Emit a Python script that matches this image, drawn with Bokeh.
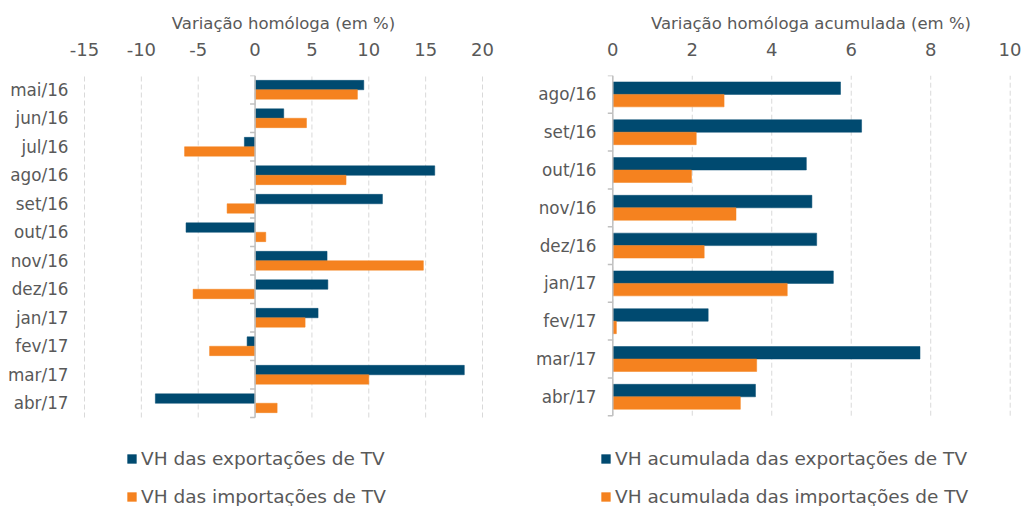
from bokeh.plotting import figure
from bokeh.models import Range1d, FixedTicker, Legend, LegendItem, ColumnDataSource
from bokeh.layouts import row
from bokeh.embed import file_html
from bokeh.resources import INLINE

# ---------------- data ----------------
months_left = ["mai/16", "jun/16", "jul/16", "ago/16", "set/16", "out/16",
               "nov/16", "dez/16", "jan/17", "fev/17", "mar/17", "abr/17"]
vh_exp = [9.56, 2.52, -0.94, 15.8, 11.2, -6.07, 6.33, 6.4, 5.54, -0.7, 18.4, -8.77]
vh_imp = [9.0, 4.52, -6.2, 8.0, -2.46, 0.94, 14.8, -5.45, 4.4, -4.0, 10.0, 1.94]
ticks_left = [-15, -10, -5, 0, 5, 10, 15, 20]

months_right = ["ago/16", "set/16", "out/16", "nov/16", "dez/16",
                "jan/17", "fev/17", "mar/17", "abr/17"]
vha_exp = [5.73, 6.26, 4.87, 5.01, 5.13, 5.55, 2.4, 7.73, 3.59]
vha_imp = [2.8, 2.1, 1.98, 3.1, 2.3, 4.39, 0.09, 3.62, 3.21]
ticks_right = [0, 2, 4, 6, 8, 10]

title_left = "Variação homóloga (em %)"
title_right = "Variação homóloga acumulada (em %)"
leg_left = ["VH das exportações de TV", "VH das importações de TV"]
leg_right = ["VH acumulada das exportações de TV", "VH acumulada das importações de TV"]

# ---------------- style ----------------
BLUE = "#004A70"
ORANGE = "#F5821F"
TXT = "#595959"
GRID = "#d9d9d9"
AXIS = "#c0c0c0"
FONT = "DejaVu Sans"
BAR_H = 0.33
HEIGHT = 506
TOP = 75


def panel(cats, exp, imp, ticks, title, labels, width, frame_left, frame_right,
          x0_px, x_end_px, cat_px, label_right, legend_left):
    """x0_px / x_end_px: pixel positions of first and last tick value."""
    n = len(cats)
    t0, t1 = ticks[0], ticks[-1]
    ppu = (x_end_px - x0_px) / (t1 - t0)          # pixels per unit
    xs = t0 - (x0_px - frame_left) / ppu
    xe = t1 + (frame_right - x_end_px) / ppu
    frame_h = HEIGHT - TOP
    y_below = (frame_h - n * cat_px) / cat_px      # room under bars for legend

    centers = [n - i - 0.5 for i in range(n)]
    src = ColumnDataSource(dict(
        cat=cats, exp=exp, imp=imp,
        y_exp=[c + BAR_H / 2 for c in centers],
        y_imp=[c - BAR_H / 2 for c in centers],
    ))
    p = figure(width=width, height=HEIGHT, x_range=Range1d(xs, xe),
               y_range=Range1d(-y_below, n),
               x_axis_location="above", output_backend="svg", toolbar_location=None,
               min_border_left=frame_left, min_border_right=width - frame_right,
               min_border_top=TOP, min_border_bottom=0)
    p.outline_line_color = None
    p.background_fill_color = "white"
    p.border_fill_color = "white"
    p.xgrid.grid_line_color = None
    p.ygrid.grid_line_color = None

    # x axis (top)
    xa = p.xaxis[0]
    xa.ticker = FixedTicker(ticks=ticks)
    xa.major_label_overrides = {t: str(t) for t in ticks}
    xa.axis_label = title
    xa.axis_label_text_font = FONT
    xa.axis_label_text_font_size = "16.5px"
    xa.axis_label_text_font_style = "normal"
    xa.axis_label_text_color = TXT
    xa.axis_label_standoff = 7
    xa.major_label_text_font = FONT
    xa.major_label_text_font_size = "18px"
    xa.major_label_text_color = TXT
    xa.major_label_standoff = 14
    xa.axis_line_color = None
    xa.major_tick_line_color = None
    xa.minor_tick_line_color = None

    # y axis: category labels only
    ya = p.yaxis[0]
    ya.ticker = FixedTicker(ticks=centers)
    ya.major_label_overrides = {c: lab for c, lab in zip(centers, cats)}
    ya.major_label_text_font = FONT
    ya.major_label_text_font_size = "16.8px"
    ya.major_label_text_color = TXT
    ya.major_tick_out = 0
    ya.major_tick_in = 0
    ya.major_label_standoff = frame_left - label_right
    ya.major_tick_line_color = None
    ya.minor_tick_line_color = None
    ya.axis_line_color = None

    # dashed vertical gridlines over the category area
    p.segment(x0=ticks, x1=ticks, y0=[0] * len(ticks), y1=[n] * len(ticks),
              line_color=GRID, line_dash="5 3", line_width=1)

    r1 = p.hbar(y="y_exp", left=0, right="exp", height=BAR_H, source=src,
                fill_color=BLUE, line_color=BLUE, line_width=0.5)
    r2 = p.hbar(y="y_imp", left=0, right="imp", height=BAR_H, source=src,
                fill_color=ORANGE, line_color=ORANGE, line_width=0.5)

    # category axis line at value 0 with boundary ticks
    tl = 5 / ppu
    bnd = list(range(n + 1))
    p.segment(x0=[0], x1=[0], y0=[0], y1=[n], line_color=AXIS, line_width=1.5)
    p.segment(x0=[-tl] * len(bnd), x1=[0] * len(bnd), y0=bnd, y1=bnd,
              line_color=AXIS, line_width=1.5)

    leg = Legend(items=[LegendItem(label=labels[0], renderers=[r1]),
                        LegendItem(label=labels[1], renderers=[r2])],
                 location=(legend_left - frame_left, -1),
                 orientation="vertical")
    leg.glyph_width = 11
    leg.glyph_height = 11
    leg.label_height = 11
    leg.label_standoff = 4
    leg.label_text_font = FONT
    leg.label_text_font_size = "18.5px"
    leg.label_text_color = TXT
    leg.label_text_baseline = "middle"
    leg.spacing = 17
    leg.padding = 0
    leg.margin = 0
    leg.border_line_color = None
    leg.background_fill_alpha = 0
    p.add_layout(leg)
    return p


p1 = panel(months_left, vh_exp, vh_imp, ticks_left, title_left, leg_left,
           width=518, frame_left=80, frame_right=486, x0_px=84, x_end_px=482,
           cat_px=28.5, label_right=68, legend_left=126)
p2 = panel(months_right, vha_exp, vha_imp, ticks_right, title_right, leg_right,
           width=503, frame_left=600 - 518, frame_right=503,
           x0_px=612.3 - 518, x_end_px=1009.7 - 518,
           cat_px=37.8, label_right=596 - 518, legend_left=600 - 518)

layout = row(p1, p2)
open("out.html", "w").write(file_html(layout, INLINE))
